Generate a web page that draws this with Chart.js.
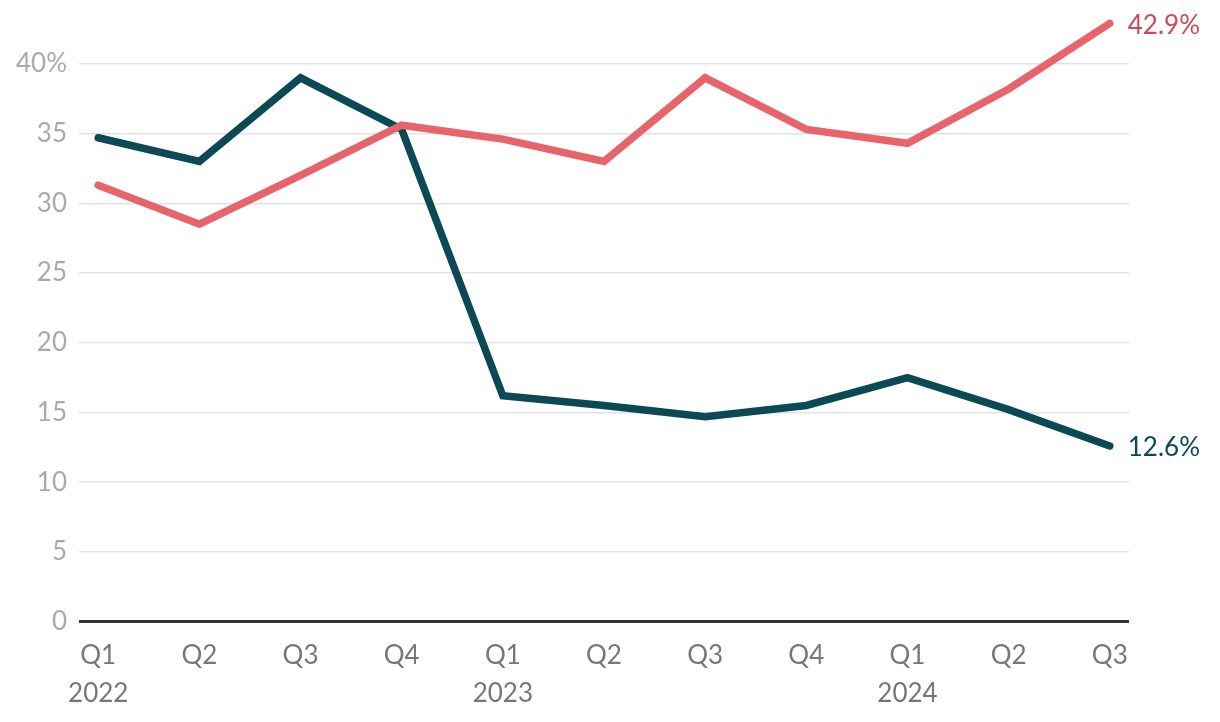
<!DOCTYPE html>
<html>
<head>
<meta charset="utf-8">
<script src="https://cdn.jsdelivr.net/npm/chart.js@4"></script>
<style>
  html, body { margin: 0; padding: 0; background: #fff; }
  #wrap { width: 1220px; height: 722px; }
</style>
</head>
<body>
<div id="wrap"><canvas id="chart"></canvas></div>
<script>
const quarters = ["Q1", "Q2", "Q3", "Q4", "Q1", "Q2", "Q3", "Q4", "Q1", "Q2", "Q3"];
const years = ["2022", "", "", "", "2023", "", "", "", "2024", "", ""];
const redValues = [31.3, 28.5, 32.0, 35.6, 34.6, 33.0, 39.0, 35.3, 34.3, 38.2, 42.9];
const tealValues = [34.7, 33.0, 39.0, 35.3, 16.2, 15.5, 14.7, 15.5, 17.5, 15.2, 12.6];
const yTicks = [0, 5, 10, 15, 20, 25, 30, 35, 40];

const RED = "#e8646b";
const TEAL = "#0b4a55";

Chart.defaults.font.family = "Lato";
Chart.defaults.font.size = 26;

function toPoints(arr) {
    return arr.map((v, i) => ({ x: i, y: v }));
}

// end-of-line value labels
const endLabels = {
    id: "endLabels",
    afterDatasetsDraw(chart) {
        const ctx = chart.ctx;
        ctx.save();
        ctx.font = "26px Lato";
        ctx.textBaseline = "middle";
        ctx.textAlign = "left";
        chart.data.datasets.forEach((ds, i) => {
            const meta = chart.getDatasetMeta(i);
            const last = meta.data[meta.data.length - 1];
            ctx.fillStyle = ds.labelColor;
            ctx.fillText(ds.data[ds.data.length - 1].y.toFixed(1) + "%", last.x + 18, last.y + 2);
        });
        ctx.restore();
    }
};

new Chart("chart", {
    type: "line",
    data: {
        datasets: [{
            data: toPoints(redValues),
            borderColor: RED,
            labelColor: "#cc4a55",
            borderWidth: 7.5,
            pointRadius: 0,
            borderCapStyle: "round",
            tension: 0,
            clip: false
        }, {
            data: toPoints(tealValues),
            borderColor: TEAL,
            labelColor: TEAL,
            borderWidth: 7.5,
            pointRadius: 0,
            borderCapStyle: "round",
            tension: 0,
            clip: false
        }]
    },
    options: {
        responsive: true,
        maintainAspectRatio: false,
        animation: false,
        layout: { padding: { top: 0, right: 91, bottom: 3, left: 0 } },
        plugins: { legend: { display: false }, tooltip: { enabled: false } },
        scales: {
            x: {
                type: "linear",
                min: -0.19,
                max: 10.19,
                grid: { display: false },
                border: { display: false },
                ticks: {
                    includeBounds: false,
                    stepSize: 1,
                    color: "#777",
                    padding: 7,
                    maxRotation: 0,
                    font: { lineHeight: 1.45 },
                    callback: (v) => years[v] ? [quarters[v], years[v]] : quarters[v]
                }
            },
            y: {
                min: 0,
                max: 42.6,
                afterBuildTicks: (axis) => { axis.ticks = yTicks.map(v => ({ value: v })); },
                afterFit: (axis) => { axis.width = 79; },
                grid: {
                    drawTicks: false,
                    lineWidth: (c) => c.tick.value === 0 ? 3 : 1.5,
                    color: (c) => c.tick.value === 0 ? "#333" : "#e3e3e3"
                },
                border: { display: false },
                ticks: {
                    color: "#aaa",
                    padding: 12,
                    callback: (v) => v === 40 ? "40%" : v
                }
            }
        }
    },
    plugins: [endLabels]
});
</script>
</body>
</html>
